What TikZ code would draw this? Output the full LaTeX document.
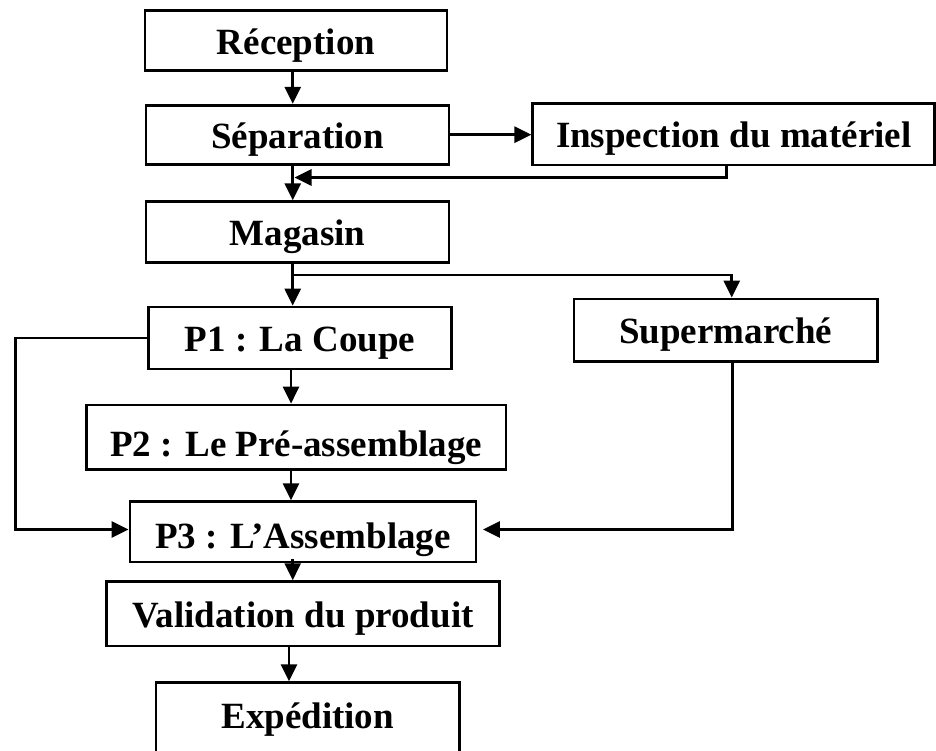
\documentclass[tikz,border=0pt]{standalone}
\usepackage{fontspec}
\setmainfont{Liberation Serif}
\usetikzlibrary{arrows.meta}
\begin{document}
\begin{tikzpicture}[x=1pt,y=-1pt,
  box/.style={draw, line width=2.8pt, inner sep=0pt, text height=35pt, text depth=8pt,
    font=\bfseries\fontsize{37}{40}\selectfont},
  arr/.style={line width=2.8pt, -{Triangle[length=17pt,width=16pt]}}]
\useasboundingbox (0,0) rectangle (936,750);
\node[box, minimum width=302pt, minimum height=60pt] (rec) at (296,40.7) {Réception};
\node[box, minimum width=303pt, minimum height=59pt] (sep) at (297.5,134.7) {Séparation};
\node[box, minimum width=402pt, minimum height=61.7pt] (insp) at (733.8,134.2) {Inspection du matériel};
\node[box, minimum width=303pt, minimum height=61pt] (mag) at (297.5,232.2) {Magasin};
\node[box, minimum width=303.7pt, minimum height=62pt] (p1) at (300,338) {P1 : La Coupe};
\node[box, minimum width=303.3pt, minimum height=62.7pt] (sup) at (725.7,330.3) {Supermarché};
\node[box, minimum width=419.3pt, minimum height=64.3pt, text height=42pt, text depth=3pt] (p2) at (296.3,437.2) {P2 : Le Pré-assemblage};
\node[box, minimum width=346pt, minimum height=60.3pt, text height=38pt, text depth=5pt] (p3) at (303,531.8) {P3 : L’Assemblage};
\node[box, minimum width=392.6pt, minimum height=64.3pt] (val) at (303,613.8) {Validation du produit};
\node[box, minimum width=303.3pt, minimum height=71.3pt, text height=30pt, text depth=10.6pt] (exp) at (307.7,718.3) {Expédition};
\coordinate (cA) at (292.7,0);
\coordinate (cB) at (291,0);
\coordinate (cC) at (289,0);
\coordinate (fb) at (726.7,177.5);
\coordinate (fbend) at (294.5,177.5);
\coordinate (br) at (731.7,275);
\coordinate (sx) at (732.7,529.5);
\coordinate (lx) at (15.7,529.5);
\draw[arr] (rec.south -| cA) -- (sep.north -| cA);
\draw[arr] (sep.south -| cA) -- (mag.north -| cA);
\draw[arr] (sep.east) -- (sep.east -| insp.west);
\draw[arr] (insp.south -| fb) |- (fbend);
\draw[arr] (mag.south -| cA) -- (p1.north -| cA);
\draw[arr] (cA |- br) -| (sup.north -| br);
\draw[arr] (sup.south -| sx) |- ([xshift=5.5pt]p3.east |- sx);
\draw[arr] (p1.west) -| (lx) -- (p3.west |- lx);
\draw[arr] (p1.south -| cB) -- (p2.north -| cB);
\draw[arr] (p2.south -| cB) -- (p3.north -| cB);
\draw[arr] ([yshift=4pt]p3.south -| cA) -- (val.north -| cA);
\draw[arr] (val.south -| cC) -- (exp.north -| cC);
\end{tikzpicture}
\end{document}
